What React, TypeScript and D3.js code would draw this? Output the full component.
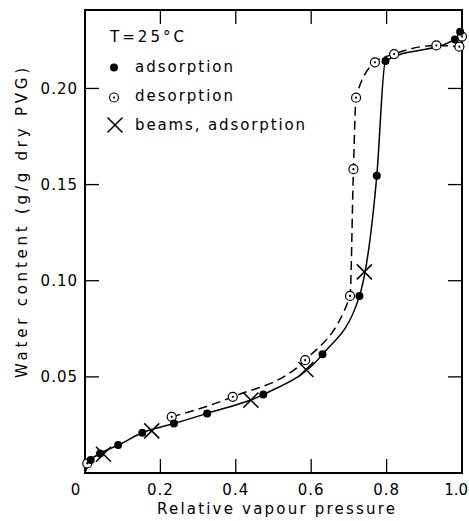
import React, { useEffect, useRef } from 'react';
import * as d3 from 'd3';

// values: [relative vapour pressure, water content g/g]
const adsorption: [number, number][] = [
  [0.015, 0.0067], [0.04, 0.0101], [0.088, 0.0145], [0.152, 0.0209],
  [0.236, 0.0257], [0.324, 0.031], [0.473, 0.0408], [0.63, 0.0617],
  [0.728, 0.092], [0.774, 0.1546], [0.797, 0.2143], [0.981, 0.2255],
  [0.995, 0.2295]
];
const desorption: [number, number][] = [
  [0.006, 0.005], [0.23, 0.0292], [0.392, 0.0396], [0.584, 0.0587],
  [0.703, 0.0921], [0.712, 0.158], [0.719, 0.1952], [0.769, 0.2136],
  [0.82, 0.2179], [0.932, 0.2224], [0.993, 0.2217], [1.0, 0.227]
];
const beams: [number, number][] = [
  [0.049, 0.0098], [0.177, 0.0219], [0.44, 0.0379], [0.586, 0.0538],
  [0.741, 0.1046]
];
const origin: [number, number] = [0, 0];
const xTicks = [0, 0.2, 0.4, 0.6, 0.8, 1.0];
const xTickLabels = ['0', '0.2', '0.4', '0.6', '0.8', '1.0'];
const yTicks = [0.05, 0.1, 0.15, 0.2];
const yTickLabels = ['0.05', '0.10', '0.15', '0.20'];
const legendLabels = ['adsorption', 'desorption', 'beams, adsorption'];
const legendWidths = [98, 98, 170];

export default function App() {
  const ref = useRef<SVGSVGElement>(null);

  useEffect(() => {
    const W = 469, H = 521;
    const m = { left: 85, right: 7, top: 10, bottom: 48 };
    const svg = d3.select(ref.current);
    svg.selectAll('*').remove();
    const font = "'DejaVu Sans', sans-serif";

    const x = d3.scaleLinear().domain([0, 1]).range([m.left, W - m.right]);
    const y = d3.scaleLinear().domain([0, 0.2408]).range([H - m.bottom, m.top]);
    const [x0, x1] = x.range();
    const [y0, y1] = y.range();

    // frame
    svg.append('rect')
      .attr('x', x0).attr('y', y1)
      .attr('width', x1 - x0).attr('height', y0 - y1)
      .attr('fill', 'none').attr('stroke', '#000').attr('stroke-width', 2);

    const tl = 14;
    xTicks.slice(1, -1).forEach(t => {
      svg.append('line').attr('x1', x(t)).attr('x2', x(t)).attr('y1', y0).attr('y2', y0 - tl)
        .attr('stroke', '#000').attr('stroke-width', 1.3);
      svg.append('line').attr('x1', x(t)).attr('x2', x(t)).attr('y1', y1).attr('y2', y1 + tl)
        .attr('stroke', '#000').attr('stroke-width', 1.3);
    });
    yTicks.forEach(t => {
      svg.append('line').attr('x1', x0).attr('x2', x0 + tl).attr('y1', y(t)).attr('y2', y(t))
        .attr('stroke', '#000').attr('stroke-width', 1.3);
      svg.append('line').attr('x1', x1).attr('x2', x1 - tl).attr('y1', y(t)).attr('y2', y(t))
        .attr('stroke', '#000').attr('stroke-width', 1.3);
    });

    // tick labels
    const last = xTicks.length - 1;
    svg.append('g').selectAll('text').data(xTicks).join('text')
      .attr('x', (d, i) => i === 0 ? x(d) - 9 : i === last ? W - 1 : x(d))
      .attr('y', y0 + 22)
      .attr('text-anchor', (d, i) => i === last ? 'end' : 'middle')
      .attr('font-family', font).attr('font-size', 15)
      .attr('letter-spacing', (d, i) => i === last ? 0 : 1)
      .text((d, i) => xTickLabels[i]);
    svg.append('g').selectAll('text').data(yTicks).join('text')
      .attr('x', x0 - 7)
      .attr('y', d => y(d) + 5.5)
      .attr('text-anchor', 'end')
      .attr('font-family', font).attr('font-size', 15).attr('letter-spacing', 1)
      .text((d, i) => yTickLabels[i]);

    // axis titles
    svg.append('text')
      .attr('x', 157).attr('y', H - 7)
      .attr('textLength', 238).attr('lengthAdjust', 'spacing')
      .attr('font-family', font).attr('font-size', 15)
      .text('Relative vapour pressure');
    svg.append('text')
      .attr('transform', 'translate(27,378) rotate(-90)')
      .attr('textLength', 310).attr('lengthAdjust', 'spacing')
      .attr('font-family', font).attr('font-size', 15)
      .text('Water content (g/g dry PVG)');

    // curves
    const line = d3.line<[number, number]>()
      .x(d => x(d[0])).y(d => y(d[1]))
      .curve(d3.curveMonotoneX);
    svg.append('path')
      .datum([origin, ...adsorption])
      .attr('d', line)
      .attr('fill', 'none').attr('stroke', '#000').attr('stroke-width', 1.5);
    svg.append('path')
      .datum(desorption.slice(1, -1))
      .attr('d', line)
      .attr('fill', 'none').attr('stroke', '#000').attr('stroke-width', 1.5)
      .attr('stroke-dasharray', '9,5');

    // markers
    const filled = (g: any, cx: number, cy: number) =>
      g.append('circle').attr('cx', cx).attr('cy', cy).attr('r', 4).attr('fill', '#000');
    const dotted = (g: any, cx: number, cy: number) => {
      g.append('circle').attr('cx', cx).attr('cy', cy).attr('r', 4.5)
        .attr('fill', '#fff').attr('stroke', '#000').attr('stroke-width', 1.2);
      g.append('circle').attr('cx', cx).attr('cy', cy).attr('r', 1.1).attr('fill', '#000');
    };
    const cross = (g: any, cx: number, cy: number) => {
      const s = 7.5;
      g.append('path')
        .attr('d', `M${cx - s},${cy - s}L${cx + s},${cy + s}M${cx - s},${cy + s}L${cx + s},${cy - s}`)
        .attr('stroke', '#000').attr('stroke-width', 1.5).attr('fill', 'none');
    };

    const pts = svg.append('g');
    desorption.forEach(d => dotted(pts, x(d[0]), y(d[1])));
    adsorption.forEach(d => filled(pts, x(d[0]), y(d[1])));
    beams.forEach(d => cross(pts, x(d[0]), y(d[1])));

    // legend
    const lg = svg.append('g');
    lg.append('text').attr('x', 110).attr('y', 42)
      .attr('textLength', 74).attr('lengthAdjust', 'spacing')
      .attr('font-family', font).attr('font-size', 15)
      .text('T=25°C');
    filled(lg, 114, 67.5);
    dotted(lg, 114, 97.5);
    cross(lg, 115, 125);
    legendLabels.forEach((t, i) => {
      lg.append('text').attr('x', 135).attr('y', 72 + i * 29)
        .attr('textLength', legendWidths[i]).attr('lengthAdjust', 'spacing')
        .attr('font-family', font).attr('font-size', 15)
        .text(t);
    });
  }, []);

  return (
    <svg ref={ref} width={469} height={521}
      style={{ position: 'absolute', left: 0, top: 0, background: '#fff' }} />
  );
}
